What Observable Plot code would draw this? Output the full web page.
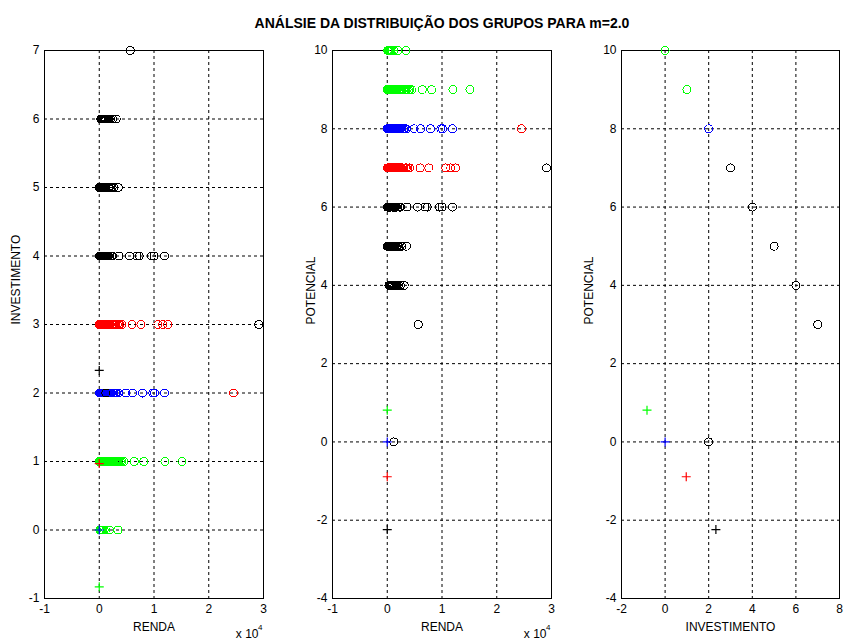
<!DOCTYPE html>
<html>
<head>
<meta charset="utf-8">
<script src="https://cdn.jsdelivr.net/npm/d3@7"></script>
<script src="https://cdn.jsdelivr.net/npm/@observablehq/plot@0.6"></script>
<style>
  body { margin: 0; background: #fff; }
  #wrap { position: relative; width: 844px; height: 641px; font-family: "Liberation Sans", Arial, sans-serif; }
  #wrap svg { position: absolute; left: 0; top: 0; }
  #title { position: absolute; left: 442px; top: 16px; transform: translateX(-50%); white-space: nowrap;
           font-size: 14px; line-height: 14px; font-weight: bold; color: #000; }
</style>
</head>
<body>
<div id="wrap"><div id="title">ANÁLSIE DA DISTRIBUIÇÃO DOS GRUPOS PARA m=2.0</div></div>
<script>
// ---------- DATA ----------
// each entry: [investimento, potencial, [renda values ...]]
const grupoVermelho = [
  [3, 7, [0, 120, 240, 380, 520, 680, 830, 980, 1150, 1320, 1500, 1680, 1870, 2050, 2250, 2450, 2650, 2850, 3050, 3300, 3550, 3800, 4100, 6000, 7600, 10700, 11600, 12500]],
  [2, 8, [24500]]
];
const grupoAzul = [
  [2, 8, [0, 100, 220, 350, 480, 620, 770, 920, 1080, 1240, 1400, 1570, 1740, 1920, 2100, 2300, 2500, 2700, 2950, 3200, 3450, 4900, 6100, 7900, 9800, 10100, 11900]]
];
const grupoPreto = [
  [4, 6, [0, 90, 190, 300, 420, 550, 690, 840, 1000, 1170, 1350, 1540, 1740, 1960, 2200, 2450, 3600, 5500, 6900, 7300, 9500, 10000, 11900]],
  [5, 5, [0, 100, 210, 330, 460, 600, 750, 910, 1080, 1260, 1450, 1650, 1850, 2100, 2350, 2650, 3500]],
  [6, 4, [300, 420, 550, 700, 860, 1030, 1210, 1400, 1600, 1820, 2050, 2400, 3100]],
  [7, 3, [5700]],
  [3, 7, [29100]],
  [2, 0, [1200]]
];
const grupoVerde = [
  [0, 10, [100, 250, 400, 550, 700, 900, 1200, 1900, 3400]],
  [1, 9, [0, 110, 230, 360, 500, 650, 800, 960, 1130, 1300, 1480, 1660, 1850, 2050, 2250, 2460, 2680, 2900, 3130, 3370, 3620, 3880, 4150, 4450, 6400, 8100, 12000, 15100]]
];
// centroids (plotted with '+')
const centroCor   = ["#00ff00", "#0000ff", "#ff0000", "#000000"];
const centroRenda = [0, 0, 0, 0];
const centroInv   = [-0.83, 0, 0.97, 2.33];
const centroPot   = [0.81, 0, -0.89, -2.24];

// ticks
const rendaTicks = [-1, 0, 1, 2, 3];
const rendaGrid  = [0, 1, 2];
const invTicks1  = [-1, 0, 1, 2, 3, 4, 5, 6, 7];
const invGrid1   = [0, 1, 2, 3, 4, 5, 6];
const potTicks   = [-4, -2, 0, 2, 4, 6, 8, 10];
const potGrid    = [-2, 0, 2, 4, 6, 8];
const invTicks3  = [-2, 0, 2, 4, 6, 8];
const invGrid3   = [0, 2, 4, 6];

// ---------- BUILD ----------
function expand(groups) {
  return groups.flatMap(([inv, pot, rendas]) => rendas.map(r => ({renda: r / 1e4, inv, pot})));
}
const series = [
  {pts: expand(grupoVermelho), color: "#ff0000"},
  {pts: expand(grupoAzul), color: "#0000ff"},
  {pts: expand(grupoPreto), color: "#000000"},
  {pts: expand(grupoVerde), color: "#00ff00"}
];
const centros = centroCor.map((c, i) => ({color: c, renda: centroRenda[i], inv: centroInv[i], pot: centroPot[i]}));

// identical markers drawn once (avoids thickened strokes where points coincide)
function unique(pts, xKey, yKey) {
  const seen = new Set();
  return pts.filter(d => { const k = d[xKey] + "|" + d[yKey]; if (seen.has(k)) return false; seen.add(k); return true; });
}

const plusSymbol = {
  draw(ctx, size) {
    const h = Math.sqrt(size / Math.PI);
    ctx.moveTo(-h, 0); ctx.lineTo(h, 0);
    ctx.moveTo(0, -h); ctx.lineTo(0, h);
  }
};

const gridStyle = {stroke: "#000", strokeOpacity: 1, strokeWidth: 1, strokeDasharray: "3,3"};
const fmt = d => String(d);

function panel(o) {
  const marks = [
    Plot.gridX(o.xGrid, gridStyle),
    Plot.gridY(o.yGrid, gridStyle),
    Plot.frame({stroke: "#000", strokeWidth: 1}),
    ...series.map(s => Plot.dot(unique(s.pts, o.xKey, o.yKey), {x: o.xKey, y: o.yKey, r: 4, stroke: s.color, fill: "none", strokeWidth: 1, shapeRendering: "crispEdges"})),
    Plot.dot(centros, {x: o.xKey, y: o.yKey, r: 4.5, symbol: plusSymbol, stroke: d => d.color, fill: "none", strokeWidth: 1.2}),
    Plot.text([o.xLabel], {frameAnchor: "bottom", dy: 29, text: d => d, lineAnchor: "middle", fontSize: 12, fill: "#000"}),
    Plot.text([o.yLabel], {frameAnchor: "left", dx: o.yLabelDx, rotate: -90, text: d => d, lineAnchor: "middle", fontSize: 12, fill: "#000"})
  ];
  if (o.exp) {
    marks.push(Plot.text(["x 10"], {frameAnchor: "bottom-right", dx: -5, dy: 36, text: d => d, textAnchor: "end", lineAnchor: "middle", fontSize: 12, fill: "#000"}));
    marks.push(Plot.text(["4"], {frameAnchor: "bottom-right", dx: -1, dy: 29, text: d => d, textAnchor: "end", lineAnchor: "middle", fontSize: 8, fill: "#000"}));
  }
  return Plot.plot({
    width: 844, height: 641,
    marginLeft: o.ml, marginRight: o.mr, marginTop: 50, marginBottom: 43,
    x: {domain: o.xDomain, ticks: o.xTicks, tickSize: 0, tickPadding: 6, tickFormat: fmt, label: null},
    y: {domain: o.yDomain, ticks: o.yTicks, tickSize: 0, tickPadding: 5, tickFormat: fmt, label: null},
    style: {background: "transparent", fontFamily: "'Liberation Sans', Arial, sans-serif", fontSize: "12px", color: "#000", overflow: "visible"},
    marks
  });
}

const wrap = document.getElementById("wrap");
wrap.appendChild(panel({
  ml: 44, mr: 581, xKey: "renda", yKey: "inv",
  xDomain: [-1, 3], yDomain: [-1, 7], xTicks: rendaTicks, yTicks: invTicks1, xGrid: rendaGrid, yGrid: invGrid1,
  xLabel: "RENDA", yLabel: "INVESTIMENTO", yLabelDx: -28, exp: true
}));
wrap.appendChild(panel({
  ml: 332, mr: 293, xKey: "renda", yKey: "pot",
  xDomain: [-1, 3], yDomain: [-4, 10], xTicks: rendaTicks, yTicks: potTicks, xGrid: rendaGrid, yGrid: potGrid,
  xLabel: "RENDA", yLabel: "POTENCIAL", yLabelDx: -21, exp: true
}));
wrap.appendChild(panel({
  ml: 621, mr: 5, xKey: "inv", yKey: "pot",
  xDomain: [-2, 8], yDomain: [-4, 10], xTicks: invTicks3, yTicks: potTicks, xGrid: invGrid3, yGrid: potGrid,
  xLabel: "INVESTIMENTO", yLabel: "POTENCIAL", yLabelDx: -32, exp: false
}));
</script>
</body>
</html>
